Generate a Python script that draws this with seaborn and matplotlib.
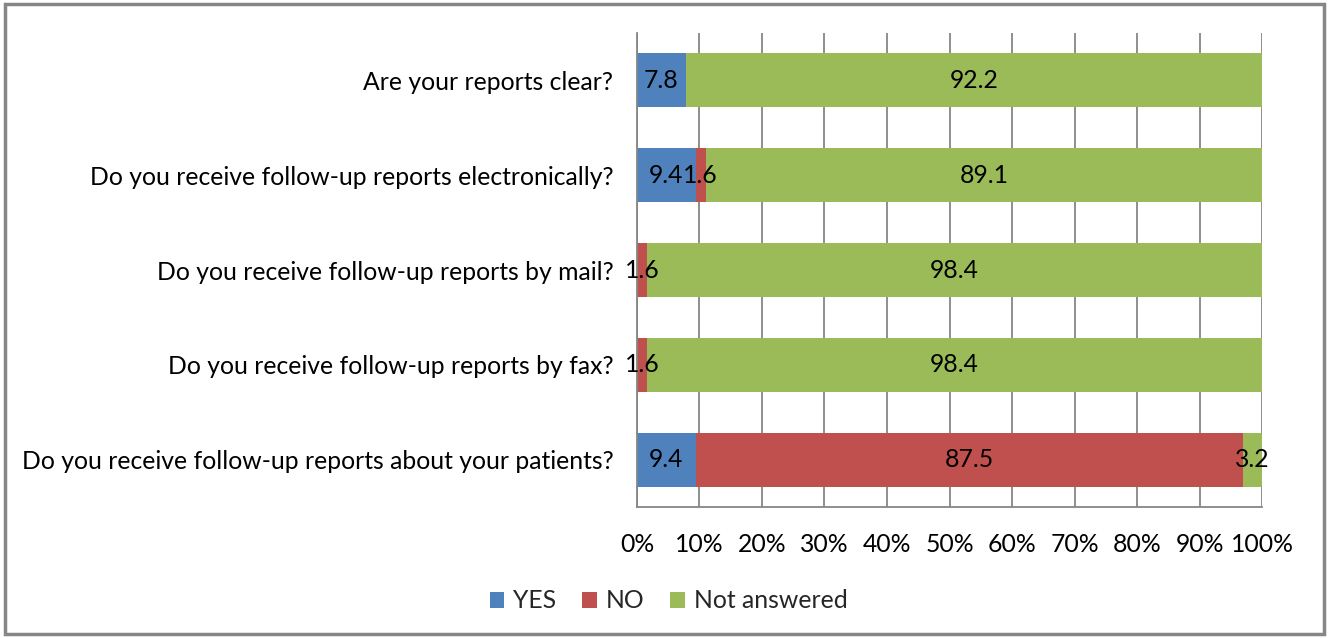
import matplotlib
matplotlib.use("Agg")
import matplotlib.pyplot as plt
import seaborn as sns
import pandas as pd
import numpy as np
from matplotlib.patches import Rectangle, Patch

sns.set_theme(style="white")
plt.rcParams['font.family'] = ['Lato', 'DejaVu Sans']

questions = [
    "Are your reports clear?",
    "Do you receive follow-up reports electronically?",
    "Do you receive follow-up reports by mail?",
    "Do you receive follow-up reports by fax?",
    "Do you receive follow-up reports about your patients?",
]
yes_vals = [7.8, 9.4, 0.0, 0.0, 9.4]
no_vals = [0.0, 1.6, 1.6, 1.6, 87.5]
na_vals = [92.2, 89.1, 98.4, 98.4, 3.2]
series_names = ["YES", "NO", "Not answered"]
colors = ["#4F81BD", "#C0504D", "#9BBB59"]
x_ticks = list(range(0, 101, 10))

FS = 17.8

df = pd.DataFrame({"question": questions, "YES": yes_vals, "NO": no_vals,
                   "Not answered": na_vals})
cum = df[series_names].cumsum(axis=1)

fig = plt.figure(figsize=(13.29, 6.38), dpi=100)
ax = fig.add_axes([0.4793, 0.2053, 0.4703, 0.743])

# stacked bars drawn back-to-front from cumulative totals
for name, col in reversed(list(zip(series_names, colors))):
    sns.barplot(data=cum.assign(question=questions), x=name, y="question",
                order=questions, color=col, width=0.57, ax=ax,
                saturation=1, edgecolor="none", linewidth=0)

# segment value labels
for i, q in enumerate(questions):
    left = 0.0
    for name in series_names:
        v = df.loc[i, name]
        if v > 0:
            ax.text(left + v / 2, i, f"{v:.1f}", ha="center", va="center",
                    fontsize=FS, color="black")
        left += v

ax.set_xlim(0, 100)
ax.set_ylim(len(questions) - 0.5, -0.5)
ax.set_xticks(x_ticks)
ax.set_xticklabels([f"{t}%" for t in x_ticks])
ax.set_xlabel("")
ax.set_ylabel("")
ax.set_axisbelow(True)
ax.grid(axis="x", color="#868686", linewidth=1.3)
ax.grid(axis="y", visible=False)
for s in ["top", "right"]:
    ax.spines[s].set_visible(False)
for s in ["left", "bottom"]:
    ax.spines[s].set_color("#868686")
    ax.spines[s].set_linewidth(1.3)
ax.tick_params(axis="both", length=0, labelsize=FS, colors="black")
ax.tick_params(axis="x", pad=19)
ax.tick_params(axis="y", pad=17)

handles = [Patch(facecolor=c, edgecolor="none") for c in colors]
fig.legend(handles, series_names, loc="center", bbox_to_anchor=(0.503, 0.058),
           ncol=3, frameon=False, fontsize=FS, handlelength=0.6,
           handleheight=0.6, handletextpad=0.35, columnspacing=1.05)

fig.patches.append(Rectangle((0.004, 0.006), 0.992, 0.988, transform=fig.transFigure,
                             fill=False, edgecolor="#868686", linewidth=2.5))

fig.savefig("out.png", dpi=100)
